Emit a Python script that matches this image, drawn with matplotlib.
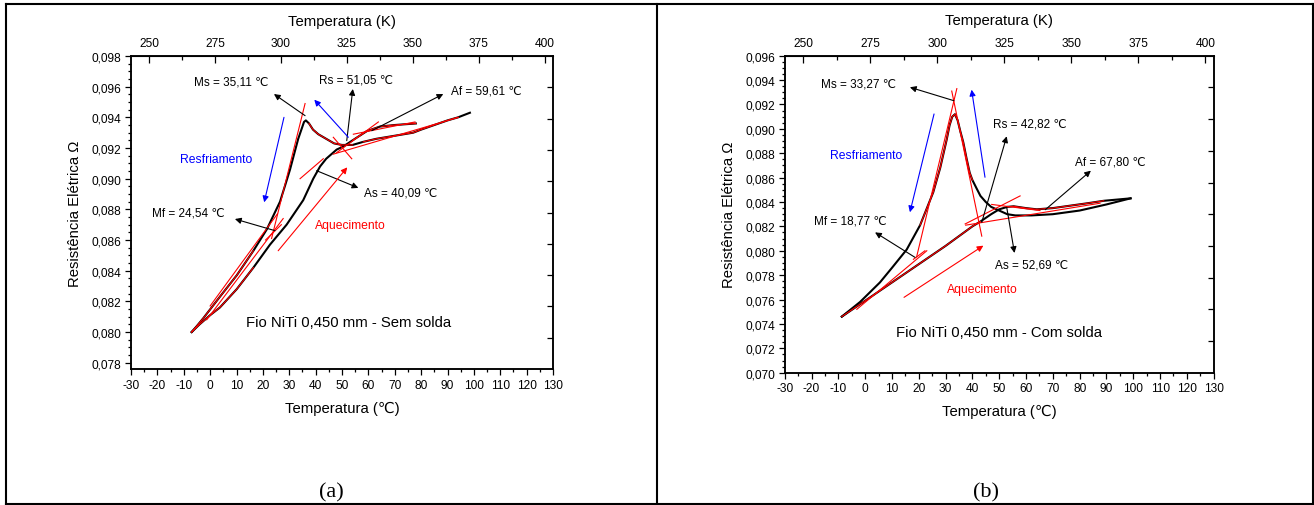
import numpy as np
import matplotlib
matplotlib.use('Agg')
import matplotlib.pyplot as plt
from matplotlib.ticker import MultipleLocator, FuncFormatter
from matplotlib.lines import Line2D

plt.rcParams['font.family'] = ['Liberation Sans', 'DejaVu Sans']
plt.rcParams['axes.unicode_minus'] = False

# (a) Fio NiTi 0,450 mm - Sem solda
a_cool_T = [98.5, 94, 90, 85, 80, 77, 70, 63, 58, 54, 50, 47, 44, 41, 39, 37.5, 36.3, 35.6, 34.6,
            33.4, 32, 30.3, 28.5, 26.5, 24, 21.5, 16.4, 10.1, 3.7, -2.6, -5, -7]
a_cool_R = [0.0943, 0.0940, 0.0938, 0.0935, 0.0932, 0.0930, 0.0928, 0.0926, 0.0924, 0.0922,
            0.0922, 0.0923, 0.0926, 0.0929, 0.0932, 0.0936, 0.0938, 0.0937, 0.0932,
            0.0926, 0.0917, 0.0906, 0.0896, 0.0885, 0.0876, 0.0867, 0.0853, 0.0837, 0.0823,
            0.0809, 0.0804, 0.0800]
a_heat_T = [-7, -4, 0, 3.7, 10.1, 16.4, 22.7, 29, 35.3, 39.1, 41.7, 44, 48, 50.5, 54, 59.4, 64.4, 70, 78]
a_heat_R = [0.0800, 0.0805, 0.0811, 0.0816, 0.0828, 0.0842, 0.0857, 0.0870, 0.0886, 0.0900,
            0.0908, 0.0913, 0.0919, 0.0921, 0.0925, 0.0931, 0.0934, 0.0935, 0.0936]
a_tangents = [((23.3, 0.0861), (36.0, 0.0949)),
              ((21.0, 0.0860), (27.0, 0.0870)),
              ((0.0, 0.0817), (25.5, 0.0877)),
              ((46.7, 0.0927), (53.7, 0.0913)),
              ((46.7, 0.0916), (94.1, 0.0940)),
              ((34.1, 0.0900), (42.9, 0.0913)),
              ((48.0, 0.0917), (63.8, 0.0937)),
              ((54.3, 0.0929), (77.7, 0.0937)),
              ((-1.3, 0.0808), (27.7, 0.0874))]
a_labels = ['Ms = 35,11 ℃', 'Rs = 51,05 ℃', 'Af = 59,61 ℃', 'As = 40,09 ℃', 'Mf = 24,54 ℃']
a_label_pos = [(8.1, 0.09635), (55.2, 0.0965), (104.6, 0.09574), (72.4, 0.08911), (-8.2, 0.08781)]
a_arrow_tail = [(36.0, 0.09411), (51.8, 0.09248), (61.3, 0.09313), (40.4, 0.09052), (24.6, 0.08661)]
a_arrow_head = [(24.2, 0.09552), (54.1, 0.09585), (88.4, 0.09552), (56.2, 0.0894), (9.4, 0.08737)]
a_blue_arrows = [((28.0, 0.0940), (20.5, 0.08846)), ((52.4, 0.0927), (39.5, 0.09515))]
a_red_arrow = ((25.8, 0.0853), (52.0, 0.09074))
a_cool_text = (2.2, 0.09128)
a_heat_text = (53.0, 0.08698)
a_title = (52.5, 0.08065)

# (b) Fio NiTi 0,450 mm - Com solda
b_cool_T = [99, 90, 80, 70, 62, 56, 53, 50, 47, 45, 43, 41.6, 40, 39, 37.8, 36.6, 35.5, 34.5, 33.5,
            32.5, 31.5, 30.4, 28, 25.4, 20.5, 15.5, 10, 5.5, -1.9, -8.7]
b_cool_R = [0.0843, 0.0838, 0.0833, 0.0830, 0.0829, 0.0829, 0.0830, 0.0833, 0.0836, 0.0840,
            0.0845, 0.0851, 0.0858, 0.0864, 0.0876, 0.0889, 0.0898, 0.0907, 0.0912,
            0.0910, 0.0903, 0.0891, 0.0868, 0.0848, 0.0821, 0.0801, 0.0786, 0.0774, 0.0758, 0.0746]
b_heat_T = [-8.7, 0, 10, 20, 30, 40, 43, 47, 50, 53, 55.4, 60, 64, 70, 76.5, 83, 89, 99]
b_heat_R = [0.0746, 0.0759, 0.0774, 0.0789, 0.0804, 0.0820, 0.0824, 0.0830, 0.0834, 0.0836,
            0.08365, 0.0835, 0.0834, 0.0835, 0.0837, 0.0839, 0.0841, 0.0843]
b_tangents = [((19.2, 0.0795), (34.2, 0.0933)),
              ((32.3, 0.0931), (43.5, 0.0812)),
              ((18.0, 0.0793), (22.3, 0.0800)),
              ((-3.1, 0.0752), (23.0, 0.0800)),
              ((37.3, 0.0822), (57.8, 0.0845)),
              ((37.5, 0.0821), (87.6, 0.0839)),
              ((47.2, 0.0838), (65.2, 0.0833))]
b_labels = ['Ms = 33,27 ℃', 'Rs = 42,82 ℃', 'Af = 67,80 ℃', 'As = 52,69 ℃', 'Mf = 18,77 ℃']
b_label_pos = [(-2.5, 0.09376), (61.4, 0.0904), (91.3, 0.08736), (62.2, 0.07891), (-5.6, 0.08252)]
b_arrow_tail = [(33.1, 0.09231), (43.5, 0.08234), (67.2, 0.08337), (52.8, 0.08357), (18.6, 0.07946)]
b_arrow_head = [(16.7, 0.09341), (52.8, 0.08939), (84.2, 0.08657), (55.7, 0.07982), (3.7, 0.08151)]
b_blue_arrows = [((25.7, 0.09122), (16.7, 0.08316)), ((44.7, 0.08603), (39.7, 0.09321))]
b_red_arrow = ((14.5, 0.07618), (44.1, 0.08042))
b_cool_text = (0.3, 0.08788)
b_heat_text = (43.6, 0.07686)
b_title = (50.0, 0.07334)


def comma(v, pos):
  return ('%.3f' % v).replace('.', ',')


def arrow(ax, tail, head, color):
  ax.annotate('', xy=head, xytext=tail,
              arrowprops=dict(arrowstyle='-|>', color=color, lw=0.8,
                              mutation_scale=9, shrinkA=0, shrinkB=0))


def panel(fig, rect, ylim, cool_T, cool_R, heat_T, heat_R, red_cool, red_heat,
          tangents, labels, label_pos, tails, heads, blue_arrows, red_arrow,
          cool_text, heat_text, title, title_text):
  ax = fig.add_axes(rect)
  cT, cR = np.array(cool_T), np.array(cool_R)
  hT, hR = np.array(heat_T), np.array(heat_R)
  ax.plot(cT, cR, color='k', lw=1.5)
  ax.plot(hT, hR, color='k', lw=1.5)
  for lo, hi in red_cool:
    m = (cT >= lo) & (cT <= hi)
    ax.plot(cT[m], cR[m], color='red', lw=0.8)
  for lo, hi in red_heat:
    m = (hT >= lo) & (hT <= hi)
    ax.plot(hT[m], hR[m], color='red', lw=0.8)
  for p, q in tangents:
    ax.plot([p[0], q[0]], [p[1], q[1]], color='red', lw=0.8)
  for t, h in zip(tails, heads):
    arrow(ax, t, h, 'k')
  for s, p in zip(labels, label_pos):
    ax.text(p[0], p[1], s, fontsize=8.5, ha='center', va='center')
  for t, h in blue_arrows:
    arrow(ax, t, h, 'blue')
  arrow(ax, red_arrow[0], red_arrow[1], 'red')
  ax.text(cool_text[0], cool_text[1], 'Resfriamento', color='blue', fontsize=8.7,
          ha='center', va='center')
  ax.text(heat_text[0], heat_text[1], 'Aquecimento', color='red', fontsize=8.7,
          ha='center', va='center')
  ax.text(title[0], title[1], title_text, fontsize=10.7, ha='center', va='center')

  ax.set_xlim(-30, 130)
  ax.set_ylim(*ylim)
  ax.xaxis.set_major_locator(MultipleLocator(10))
  ax.xaxis.set_minor_locator(MultipleLocator(5))
  ax.yaxis.set_major_locator(MultipleLocator(0.002))
  ax.yaxis.set_minor_locator(MultipleLocator(0.0005))
  ax.yaxis.set_major_formatter(FuncFormatter(comma))
  ax.tick_params(which='both', direction='out', top=False, right=False, labelsize=8.6, width=0.9)
  ax.tick_params(which='major', length=4, pad=3)
  ax.tick_params(which='minor', length=2)
  for s in ax.spines.values():
    s.set_linewidth(1.1)
  ax.set_xlabel('Temperatura (℃)', fontsize=10.7, labelpad=7)
  ax.set_ylabel('Resistência Elétrica Ω', fontsize=10.7, labelpad=7)

  top = ax.secondary_xaxis('top', functions=(lambda c: c + 273.15, lambda k: k - 273.15))
  top.xaxis.set_major_locator(MultipleLocator(25))
  top.xaxis.set_minor_locator(MultipleLocator(12.5))
  top.tick_params(which='both', direction='in', labelsize=8.6, width=0.9, pad=5)
  top.tick_params(which='major', length=5)
  top.tick_params(which='minor', length=3)
  top.set_xlabel('Temperatura (K)', fontsize=10.7, labelpad=9)

  rt = ax.twinx()
  rt.set_ylim(0, 1)
  rt.set_yticks(np.arange(0.1, 0.95, 0.1))
  rt.tick_params(direction='in', labelright=False, length=4, width=0.9)
  for s in rt.spines.values():
    s.set_linewidth(1.1)
  return ax


def run():
  fig = plt.figure(figsize=(13.14, 5.06), dpi=100)
  W, H = 1314.0, 506.0

  panel(fig, [131 / W, (H - 370) / H, 422 / W, 313 / H], (0.07759, 0.098),
        a_cool_T, a_cool_R, a_heat_T, a_heat_R,
        [(-7, 20), (37.5, 54), (58, 95)], [(-7, 20), (54, 78)],
        a_tangents, a_labels, a_label_pos, a_arrow_tail, a_arrow_head,
        a_blue_arrows, a_red_arrow, a_cool_text, a_heat_text, a_title,
        'Fio NiTi 0,450 mm - Sem solda')

  panel(fig, [784.7 / W, (H - 373.7) / H, 429 / W, 317 / H], (0.070, 0.096),
        b_cool_T, b_cool_R, b_heat_T, b_heat_R,
        [(20, 40)], [(-8.7, 43), (53, 89)],
        b_tangents, b_labels, b_label_pos, b_arrow_tail, b_arrow_head,
        b_blue_arrows, b_red_arrow, b_cool_text, b_heat_text, b_title,
        'Fio NiTi 0,450 mm - Com solda')

  # table-like frame around the two panels
  x0, x1, xm = 6 / W, 1313 / W, 656.7 / W
  y0, y1 = 1 - 504.7 / H, 1 - 5 / H
  for xs, ys in [([x0, x1], [y1, y1]), ([x0, x1], [y0, y0]), ([x0, x0], [y0, y1]),
                 ([x1, x1], [y0, y1]), ([xm, xm], [y0, y1])]:
    fig.add_artist(Line2D(xs, ys, transform=fig.transFigure, color='k', lw=1.5))

  serif = ['Liberation Serif', 'DejaVu Serif']
  fig.text(331 / W, 1 - 493 / H, '(a)', family=serif, fontsize=16, ha='center', va='center')
  fig.text(986 / W, 1 - 493 / H, '(b)', family=serif, fontsize=16, ha='center', va='center')

  fig.savefig('out.png', dpi=100)


if __name__ == '__main__':
  run()
